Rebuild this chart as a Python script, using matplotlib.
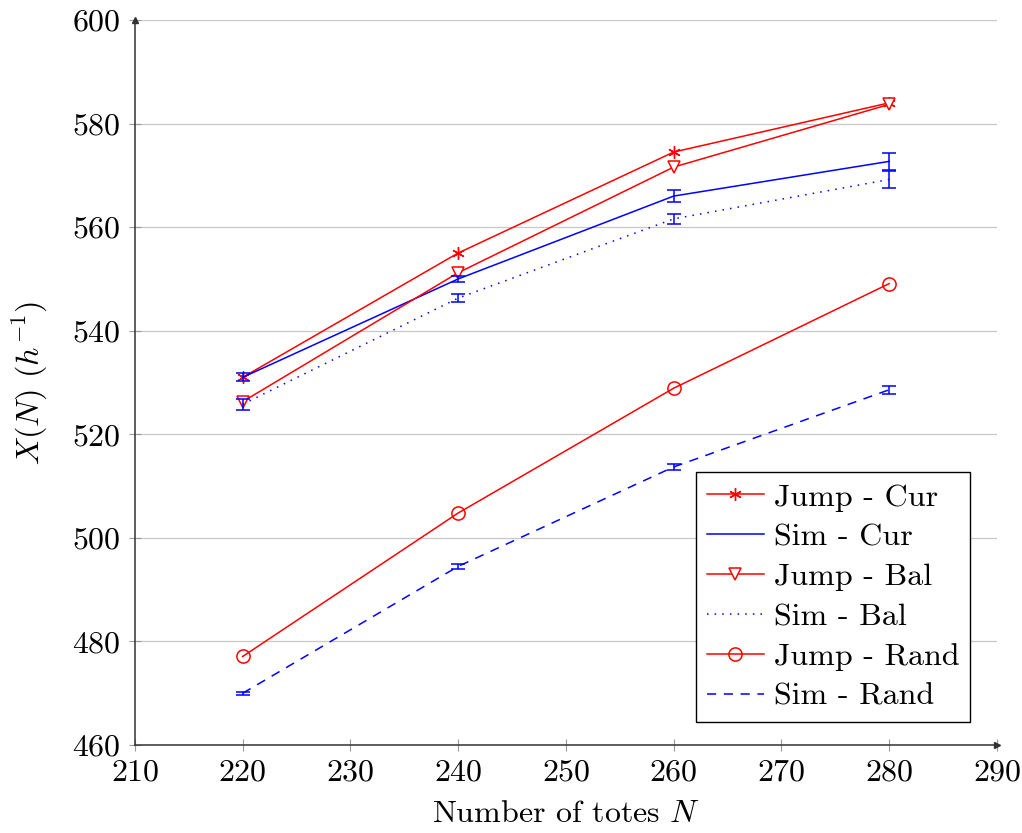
import numpy as np
import matplotlib
matplotlib.use("Agg")
import matplotlib.pyplot as plt

# Datos
N = [220, 240, 260, 280]

jump_cur = [531.0, 555.0, 574.5, 584.0]
sim_cur = [531.0, 550.0, 566.0, 572.7]
sim_cur_err = [0.8, 0.6, 1.2, 1.7]

jump_bal = [526.3, 551.2, 571.6, 583.7]
sim_bal = [525.8, 546.3, 561.6, 569.2]
sim_bal_err = [1.1, 0.7, 1.0, 1.7]

jump_rand = [477.1, 504.8, 528.9, 549.1]
sim_rand = [470.0, 494.5, 513.7, 528.6]
sim_rand_err = [0.3, 0.55, 0.5, 0.8]

x_ticks = [210, 220, 230, 240, 250, 260, 270, 280, 290]
y_ticks = [460, 480, 500, 520, 540, 560, 580, 600]

plt.rcParams['font.family'] = ['cmr10', 'DejaVu Serif']
plt.rcParams['mathtext.fontset'] = 'cm'
plt.rcParams['axes.formatter.use_mathtext'] = True

fig = plt.figure(figsize=(10.22, 8.33), dpi=100)
ax = fig.add_axes([0.132, 0.1056, 0.8435, 0.8704])

red = '#ff0000'
blue = '#0000ff'
lw = 1.1
fs = 23

ax.plot(N, jump_cur, color=red, lw=lw, marker=(6, 2, 0), ms=9, mew=1.0,
        label="Jump - Cur")
ax.plot(N, sim_cur, color=blue, lw=lw, label="Sim - Cur")
ax.plot(N, jump_bal, color=red, lw=lw, marker='v', ms=8, mfc='white', mew=1.1,
        label="Jump - Bal")
ax.plot(N, sim_bal, color=blue, lw=lw, ls=(0, (1, 4)), label="Sim - Bal")
ax.plot(N, jump_rand, color=red, lw=lw, marker='o', ms=9.5, mfc='none', mew=1.1,
        label="Jump - Rand")
ax.plot(N, sim_rand, color=blue, lw=lw, ls=(0, (6, 5)), label="Sim - Rand")

for vals, err in [(sim_cur, sim_cur_err), (sim_bal, sim_bal_err), (sim_rand, sim_rand_err)]:
    ax.errorbar(N, vals, yerr=err, fmt='none', ecolor=blue, elinewidth=1.1,
                capsize=4.8, capthick=1.1)

ax.set_xlim(210, 290)
ax.set_ylim(460, 600)
ax.set_xticks(x_ticks)
ax.set_yticks(y_ticks)
ax.tick_params(axis='both', labelsize=fs, direction='inout', length=8,
               color='#999999', width=0.8)
ax.tick_params(axis='x', pad=6)
ax.tick_params(axis='y', pad=6)
ax.set_xlabel(r"Number of totes $N$", fontsize=fs, labelpad=10)
ax.set_ylabel(r"$X(N)$ $(h^{-1})$", fontsize=fs, labelpad=16)

ax.yaxis.grid(True, color='#c8c8c8', lw=0.9)
ax.set_axisbelow(True)

for s in ['top', 'right']:
    ax.spines[s].set_visible(False)
for s in ['left', 'bottom']:
    ax.spines[s].set_color('#333333')
    ax.spines[s].set_linewidth(1.1)

# Flechas de los ejes
ax.plot(1, 0, '>', color='#333333', ms=5, transform=ax.transAxes, clip_on=False)
ax.plot(0, 1, '^', color='#333333', ms=5, transform=ax.transAxes, clip_on=False)

leg = ax.legend(loc='lower right', bbox_to_anchor=(0.969, 0.032), fontsize=fs,
                fancybox=False, edgecolor='black', framealpha=1,
                handlelength=1.8, handletextpad=0.3, labelspacing=0.36,
                borderpad=0.34, borderaxespad=0)
leg.get_frame().set_linewidth(1.0)

plt.savefig("out.png", dpi=100)
